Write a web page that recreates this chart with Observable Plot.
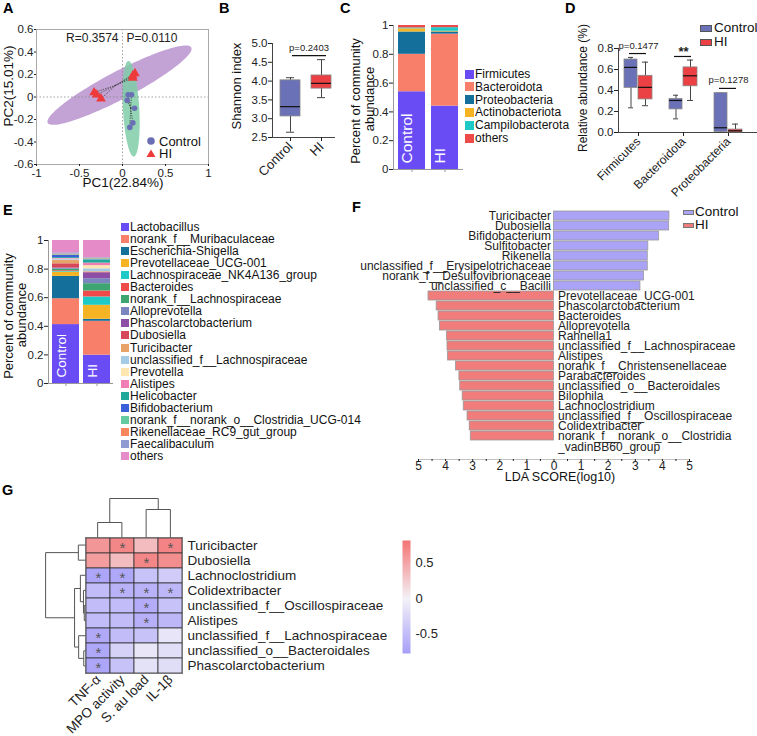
<!DOCTYPE html>
<html><head><meta charset="utf-8">
<script src="https://cdn.jsdelivr.net/npm/d3@7"></script>
<script src="https://cdn.jsdelivr.net/npm/@observablehq/plot@0.6"></script>
<style>
html,body{margin:0;padding:0;background:#fff;}
#root{position:relative;width:757px;height:736px;overflow:hidden;font-family:"Liberation Sans",Arial,sans-serif;background:#fff;color:#111;}
#root svg{overflow:visible;}
</style></head><body><div id="root"></div>
<script>
// ---------------- DATA ----------------
// A: PCoA
const controlPC1 = [0.066, 0.105, 0.054, 0.14, 0.12, 0.085];
const controlPC2 = [0.02, 0.02, -0.03, -0.10, -0.23, -0.27];
const hiPC1 = [-0.33, -0.30, -0.25, 0.12, 0.145, 0.12];
const hiPC2 = [0.04, 0.02, -0.015, 0.17, 0.21, 0.19];
const ellipseGroups = ["HI", "Control"];
const ellipseCenterX = [-0.035, 0.10];
const ellipseCenterY = [0.105, -0.105];
const ellipseMajorX = [0.835, -0.03];
const ellipseMajorY = [0.335, 0.425];
const ellipseMinorX = [0.074, 0.095];
const ellipseMinorY = [-0.11, 0.0];
const pcaXTicks = [-1, -0.5, 0, 0.5, 1];
const pcaYTicks = [-0.6, -0.4, -0.2, 0, 0.2, 0.4, 0.6];
const pcaStats = ["R=0.3574", "P=0.0110"];

// B: Shannon
const shannonGroups = ["Control", "HI"];
const shannonMin = [2.64, 3.56];
const shannonQ1 = [3.06, 3.80];
const shannonMedian = [3.32, 3.94];
const shannonQ3 = [4.02, 4.15];
const shannonMax = [4.09, 4.57];
const shannonTicks = [2.5, 3, 3.5, 4, 4.5, 5];
const shannonPLabel = ["p=0.2403"];
const shannonPY = [4.68];

// C: phylum composition
const phylumNames = ["Firmicutes", "Bacteroidota", "Proteobacteria", "Actinobacteriota", "Campilobacterota", "others"];
const phylumColors = ["#6a4cf5", "#f8806a", "#14709a", "#f6b425", "#1fc9c6", "#ef4a4a"];
const phylumControl = [0.54, 0.26, 0.155, 0.022, 0.006, 0.017];
const phylumHI = [0.44, 0.50, 0.015, 0.005, 0.025, 0.015];
const fracTicks = [0, 0.2, 0.4, 0.6, 0.8, 1];

// D: phylum boxplots
const dTaxa = ["Firmicutes", "Bacteroidota", "Proteobacteria"];
const dControlMin = [0.235, 0.13, 0.0];
const dControlQ1 = [0.425, 0.22, 0.005];
const dControlMed = [0.62, 0.305, 0.045];
const dControlQ3 = [0.695, 0.32, 0.375];
const dControlMax = [0.715, 0.355, 0.375];
const dHIMin = [0.255, 0.305, 0.0];
const dHIQ1 = [0.315, 0.44, 0.0];
const dHIMed = [0.43, 0.54, 0.016];
const dHIQ3 = [0.54, 0.62, 0.028];
const dHIMax = [0.67, 0.69, 0.08];
const dSigLabels = ["p=0.1477", "**", "p=0.1278"];
const dSigY = [0.752, 0.724, 0.42];
const dTicks = [0, 0.2, 0.4, 0.6, 0.8];

// E: genus composition
const genusNames = ["Lactobacillus", "norank_f__Muribaculaceae", "Escherichia-Shigella", "Prevotellaceae_UCG-001",
  "Lachnospiraceae_NK4A136_group", "Bacteroides", "norank_f__Lachnospiraceae", "Alloprevotella", "Phascolarctobacterium",
  "Dubosiella", "Turicibacter", "unclassified_f__Lachnospiraceae", "Prevotella", "Alistipes", "Helicobacter",
  "Bifidobacterium", "norank_f__norank_o__Clostridia_UCG-014", "Rikenellaceae_RC9_gut_group", "Faecalibaculum", "others"];
const genusColors = ["#6a4cf5", "#f8806a", "#14709a", "#f6b425", "#1fc9c6", "#ef4a4a", "#3da56f", "#7b85c0", "#8d4fa5",
  "#d4485a", "#e8a468", "#a6cbe6", "#fde6b0", "#f07eb4", "#1fa89a", "#3a5fd9", "#63c9a1", "#f8875f", "#8f9bd1", "#e58bc8"];
const genusControl = [0.412, 0.181, 0.156, 0.030, 0.005, 0.005, 0.010, 0.005, 0.003, 0.030, 0.023, 0.006, 0.004, 0.004,
  0.006, 0.015, 0.005, 0.005, 0.009, 0.086];
const genusHI = [0.198, 0.237, 0.014, 0.098, 0.058, 0.042, 0.051, 0.035, 0.041, 0.004, 0.004, 0.020, 0.022, 0.018,
  0.018, 0.004, 0.008, 0.004, 0.004, 0.120];

// F: LEfSe
const ldaTaxa = ["Turicibacter", "Dubosiella", "Bifidobacterium", "Sulfitobacter", "Rikenella",
  "unclassified_f__Erysipelotrichaceae", "norank_f__Desulfovibrionaceae", "unclassified_c__Bacilli",
  "Prevotellaceae_UCG-001", "Phascolarctobacterium", "Bacteroides", "Alloprevotella", "Rahnella1",
  "unclassified_f__Lachnospiraceae", "Alistipes", "norank_f__Christensenellaceae", "Parabacteroides",
  "unclassified_o__Bacteroidales", "Bilophila", "Lachnoclostridium", "unclassified_f__Oscillospiraceae",
  "Colidextribacter", "norank_f__norank_o__Clostridia_vadinBB60_group"];
const ldaScore = [4.26, 4.25, 3.88, 3.48, 3.46, 3.46, 3.32, 3.19,
  4.63, 4.33, 4.26, 4.21, 3.95, 3.93, 3.91, 3.62, 3.49, 3.46, 3.37, 3.33, 3.19, 3.11, 3.07];
const ldaGroup = ["Control", "Control", "Control", "Control", "Control", "Control", "Control", "Control",
  "HI", "HI", "HI", "HI", "HI", "HI", "HI", "HI", "HI", "HI", "HI", "HI", "HI", "HI", "HI"];
const ldaTicks = [-5, -4, -3, -2, -1, 0, 1, 2, 3, 4, 5];
const ldaMinorTicks = [-4.5, -3.5, -2.5, -1.5, -0.5, 0.5, 1.5, 2.5, 3.5, 4.5];

// G: correlation heatmap
const heatRows = ["Turicibacter", "Dubosiella", "Lachnoclostridium", "Colidextribacter",
  "unclassified_f__Oscillospiraceae", "Alistipes", "unclassified_f__Lachnospiraceae",
  "unclassified_o__Bacteroidales", "Phascolarctobacterium"];
const heatCols = ["TNF-α", "MPO activity", "S. au load", "IL-1β"];
const heatR = [
  [0.60, 0.70, 0.35, 0.72],
  [0.55, 0.35, 0.70, 0.65],
  [-0.72, -0.70, -0.45, -0.35],
  [-0.50, -0.60, -0.60, -0.55],
  [-0.50, -0.50, -0.65, -0.45],
  [-0.50, -0.50, -0.62, -0.55],
  [-0.68, -0.50, -0.45, -0.12],
  [-0.70, -0.30, -0.10, -0.18],
  [-0.72, -0.45, -0.15, -0.20]];
const heatSig = [
  [0, 1, 0, 1], [0, 0, 1, 0], [1, 1, 0, 0], [0, 1, 1, 1], [0, 0, 1, 0],
  [0, 0, 1, 0], [1, 0, 0, 0], [1, 0, 0, 0], [1, 0, 0, 0]];
// hierarchical clustering merges: [childA, childB, height]
const rowMerges = [[4, 5, 1.2], [3, 9, 2], [2, 10, 5], [7, 8, 1.7], [6, 12, 6.7], [11, 13, 10.7], [0, 1, 7], [15, 14, 39]];
const colMerges = [[0, 1, 15], [2, 3, 28], [4, 5, 39]];
const colorbarTicks = [-0.5, 0, 0.5];

// ---------------- HELPERS ----------------
const FONT = "Liberation Sans, Arial, sans-serif";
const root = document.getElementById("root");
const sty = fs => ({fontFamily: FONT, fontSize: fs + "px", background: "transparent", overflow: "visible", color: "#222"});
function place(node, left, top) {
  node.style.position = "absolute"; node.style.left = left + "px"; node.style.top = top + "px";
  root.appendChild(node); return node;
}
function txt(s, x, y, o = {}) {
  const d = document.createElement("div");
  d.textContent = s;
  const size = o.size ?? 12;
  const tx = o.anchor === "start" ? "0" : o.anchor === "end" ? "-100%" : "-50%";
  d.style.cssText = `position:absolute;left:${x}px;top:${y}px;font-size:${size}px;line-height:1;white-space:nowrap;` +
    `font-weight:${o.weight || "normal"};color:${o.color || "#111"};transform-origin:0 0;` +
    `transform:rotate(${o.rot || 0}deg) translate(${tx},-50%);font-family:${FONT};`;
  root.appendChild(d); return d;
}
function swatch(x, y, w, h, fill, stroke) {
  const d = document.createElement("div");
  d.style.cssText = `position:absolute;left:${x}px;top:${y - h / 2}px;width:${w}px;height:${h}px;background:${fill};` +
    (stroke ? `box-sizing:border-box;border:1px solid ${stroke};` : "");
  root.appendChild(d); return d;
}
const fmtFrac = d => d === 0 ? "0" : d === 1 ? "1" : d.toFixed(1);

// ---------------- PANEL A ----------------
const ctrlPts = controlPC1.map((x, i) => ({x, y: controlPC2[i]}));
const hiPts = hiPC1.map((x, i) => ({x, y: hiPC2[i]}));
const ctrlC = {x: d3.mean(controlPC1), y: d3.mean(controlPC2)};
const hiC = {x: d3.mean(hiPC1), y: d3.mean(hiPC2)};
const thetas = d3.range(0, 360, 3).map(a => a * Math.PI / 180);
const ellipse = i => thetas.map(t => ({
  x: ellipseCenterX[i] + Math.cos(t) * ellipseMajorX[i] + Math.sin(t) * ellipseMinorX[i],
  y: ellipseCenterY[i] + Math.cos(t) * ellipseMajorY[i] + Math.sin(t) * ellipseMinorY[i]}));
const plotA = Plot.plot({
  width: 215, height: 195, marginLeft: 36, marginRight: 7, marginTop: 29, marginBottom: 31,
  style: sty(11.5),
  x: {domain: [-1, 1]}, y: {domain: [-0.6, 0.6]},
  marks: [
    Plot.line(ellipse(0), {x: "x", y: "y", curve: "linear-closed", fill: "#b48ccb", fillOpacity: 0.8, stroke: "none"}),
    Plot.line(ellipse(1), {x: "x", y: "y", curve: "linear-closed", fill: "#7fcca7", fillOpacity: 0.85, stroke: "none"}),
    Plot.ruleX([0], {stroke: "#888", strokeDasharray: "1.5,2", strokeWidth: 0.8}),
    Plot.ruleY([0], {stroke: "#888", strokeDasharray: "1.5,2", strokeWidth: 0.8}),
    Plot.frame({stroke: "#aaa"}),
    Plot.axisX({ticks: pcaXTicks, tickFormat: d => String(d), tickSize: 2, tickPadding: 2, label: null, fontSize: 11.5}),
    Plot.axisY({ticks: pcaYTicks, tickFormat: d => String(d), tickSize: 2, tickPadding: 1, label: null, fontSize: 11.5}),
    Plot.link(ctrlPts, {x1: () => ctrlC.x, y1: () => ctrlC.y, x2: "x", y2: "y", stroke: "#333", strokeDasharray: "1.2,1.2", strokeWidth: 0.8}),
    Plot.link(hiPts, {x1: () => hiC.x, y1: () => hiC.y, x2: "x", y2: "y", stroke: "#333", strokeDasharray: "1.2,1.2", strokeWidth: 0.8}),
    Plot.dot(ctrlPts, {x: "x", y: "y", r: 2.8, fill: "#6a6fb5"}),
    Plot.dot(hiPts, {x: "x", y: "y", r: 3.6, symbol: "triangle", fill: "#ee3a3a"}),
    Plot.text([pcaStats[0]], {x: 0, frameAnchor: "top", textAnchor: "end", dx: -4, dy: 4, fontSize: 12}),
    Plot.text([pcaStats[1]], {x: 0, frameAnchor: "top", textAnchor: "start", dx: 4, dy: 4, fontSize: 12})
  ]
});
place(plotA, 0, 0);

// ---------------- PANEL B ----------------
const boxB = shannonGroups.map((g, i) => ({group: g, min: shannonMin[i], q1: shannonQ1[i], med: shannonMedian[i], q3: shannonQ3[i], max: shannonMax[i]}));
const plotB = Plot.plot({
  width: 125, height: 195, marginLeft: 57, marginRight: 5, marginTop: 43, marginBottom: 58,
  style: sty(11.5),
  x: {domain: shannonGroups, range: [65, 116], paddingInner: 0.355, paddingOuter: 0},
  y: {domain: [2.5, 5]},
  color: {domain: shannonGroups, range: ["#6a71b6", "#ec4144"]},
  marks: [
    Plot.frame({anchor: "left", stroke: "#444"}),
    Plot.ruleY([2.5], {stroke: "#444"}),
    Plot.axisY({ticks: shannonTicks, tickFormat: d => d.toFixed(1), tickSize: 4, tickPadding: 1, label: null, fontSize: 11.5}),
    Plot.axisX({tickRotate: -45, tickSize: 4, tickPadding: 3, label: null, fontSize: 13}),
    Plot.ruleX(boxB, {x: "group", y1: "min", y2: "max", stroke: "#444"}),
    Plot.tickY(boxB, {x: "group", y: "min", inset: 6, stroke: "#444"}),
    Plot.tickY(boxB, {x: "group", y: "max", inset: 6, stroke: "#444"}),
    Plot.barY(boxB, {x: "group", y1: "q1", y2: "q3", fill: "group", stroke: "#888", strokeWidth: 0.8}),
    Plot.tickY(boxB, {x: "group", y: "med", stroke: "#111", strokeWidth: 1.2}),
    Plot.tickY(shannonPY, {y: d => d, insetLeft: 20, insetRight: 9, stroke: "#111", strokeWidth: 1.2}),
    Plot.text(shannonPLabel, {y: () => shannonPY[0], frameAnchor: "middle", dx: 5, dy: -8, fontSize: 9.5})
  ]
});
place(plotB, 215, 0);

// ---------------- PANEL C ----------------
const phylumLong = [];
phylumNames.forEach((p, i) => {
  phylumLong.push({group: "Control", taxon: p, value: phylumControl[i]});
  phylumLong.push({group: "HI", taxon: p, value: phylumHI[i]});
});
const plotC = Plot.plot({
  width: 125, height: 195, marginLeft: 53, marginRight: 2, marginTop: 25, marginBottom: 26,
  style: sty(11.5),
  x: {domain: shannonGroups, range: [58, 118], paddingInner: 0.182, paddingOuter: 0},
  y: {domain: [0, 1]},
  color: {domain: phylumNames, range: phylumColors},
  marks: [
    Plot.barY(phylumLong, {x: "group", y: "value", fill: "taxon", order: phylumNames}),
    Plot.frame({anchor: "left", stroke: "#999"}),
    Plot.ruleY([0], {stroke: "#999"}),
    Plot.axisY({ticks: fracTicks, tickFormat: fmtFrac, tickSize: 4, tickPadding: 1, label: null, fontSize: 11.5}),
    Plot.axisX({tickFormat: () => "", tickSize: 3, label: null, stroke: "#999"}),
    Plot.text(shannonGroups, {x: d => d, frameAnchor: "bottom", rotate: -90, textAnchor: "start", dy: -6, fill: "white", fontSize: 15.5})
  ]
});
place(plotC, 340, 0);

// ---------------- PANEL D ----------------
const boxD = [];
dTaxa.forEach((t, i) => {
  boxD.push({taxon: t, group: "Control", min: dControlMin[i], q1: dControlQ1[i], med: dControlMed[i], q3: dControlQ3[i], max: dControlMax[i]});
  boxD.push({taxon: t, group: "HI", min: dHIMin[i], q1: dHIQ1[i], med: dHIMed[i], q3: dHIQ3[i], max: dHIMax[i]});
});
const bC = boxD.filter(d => d.group === "Control"), bH = boxD.filter(d => d.group === "HI");
const sigD = dTaxa.map((t, i) => ({taxon: t, label: dSigLabels[i], y: dSigY[i]}));
const plotD = Plot.plot({
  width: 202, height: 195, marginLeft: 63, marginRight: 0, marginTop: 48, marginBottom: 63,
  style: sty(11.5),
  x: {domain: dTaxa, range: [69, 187], paddingInner: 0.378, paddingOuter: 0},
  y: {domain: [0, 0.8]},
  color: {domain: shannonGroups, range: ["#6a71b6", "#ec4144"]},
  marks: [
    Plot.frame({anchor: "left", stroke: "#444"}),
    Plot.ruleY([0], {stroke: "#444"}),
    Plot.axisY({ticks: dTicks, tickFormat: d => d.toFixed(1), tickSize: 4, tickPadding: 1, label: null, fontSize: 11.5}),
    Plot.axisX({tickRotate: -45, tickSize: 4, tickPadding: 3, label: null, fontSize: 12}),
    Plot.ruleX(bC, {x: "taxon", y1: "min", y2: "max", dx: -7.5, stroke: "#444"}),
    Plot.ruleX(bH, {x: "taxon", y1: "min", y2: "max", dx: 7, stroke: "#444"}),
    Plot.tickY(bC, {x: "taxon", y: "min", insetLeft: 4, insetRight: 19, stroke: "#444"}),
    Plot.tickY(bC, {x: "taxon", y: "max", insetLeft: 4, insetRight: 19, stroke: "#444"}),
    Plot.tickY(bH, {x: "taxon", y: "min", insetLeft: 18, insetRight: 4, stroke: "#444"}),
    Plot.tickY(bH, {x: "taxon", y: "max", insetLeft: 18, insetRight: 4, stroke: "#444"}),
    Plot.barY(bC, {x: "taxon", y1: "q1", y2: "q3", fill: "group", insetRight: 15, stroke: "#888", strokeWidth: 0.8}),
    Plot.barY(bH, {x: "taxon", y1: "q1", y2: "q3", fill: "group", insetLeft: 14, stroke: "#888", strokeWidth: 0.8}),
    Plot.tickY(bC, {x: "taxon", y: "med", insetRight: 15, stroke: "#111", strokeWidth: 1.2}),
    Plot.tickY(bH, {x: "taxon", y: "med", insetLeft: 14, stroke: "#111", strokeWidth: 1.2}),
    Plot.tickY(sigD, {x: "taxon", y: "y", insetLeft: 5, insetRight: 6, stroke: "#111", strokeWidth: 1.2}),
    Plot.text(sigD.filter(d => d.label !== "**"), {x: "taxon", y: "y", text: "label", dy: -8, fontSize: 9.5}),
    Plot.text(sigD.filter(d => d.label === "**"), {x: "taxon", y: "y", text: "label", dy: -5, fontSize: 13, fontWeight: "bold"})
  ]
});
place(plotD, 555, 0);

// ---------------- PANEL E ----------------
const genusLong = [];
genusNames.forEach((g, i) => {
  genusLong.push({group: "Control", taxon: g, value: genusControl[i]});
  genusLong.push({group: "HI", taxon: g, value: genusHI[i]});
});
const plotE = Plot.plot({
  width: 120, height: 270, marginLeft: 48, marginRight: 7, marginTop: 40, marginBottom: 87,
  style: sty(11.5),
  x: {domain: shannonGroups, range: [52, 110], paddingInner: 0.13, paddingOuter: 0},
  y: {domain: [0, 1]},
  color: {domain: genusNames, range: genusColors},
  marks: [
    Plot.barY(genusLong, {x: "group", y: "value", fill: "taxon", order: genusNames}),
    Plot.frame({anchor: "left", stroke: "#999"}),
    Plot.ruleY([0], {stroke: "#999"}),
    Plot.axisY({ticks: fracTicks, tickFormat: fmtFrac, tickSize: 4, tickPadding: 1, label: null, fontSize: 11.5}),
    Plot.axisX({tickFormat: () => "", tickSize: 3, label: null, stroke: "#999"}),
    Plot.text(shannonGroups, {x: d => d, frameAnchor: "bottom", rotate: -90, textAnchor: "start", dy: -6, fill: "white", fontSize: 13.5})
  ]
});
place(plotE, 0, 200);

// ---------------- PANEL F ----------------
const lda = ldaTaxa.map((t, i) => ({taxon: t, group: ldaGroup[i], score: ldaScore[i], signed: ldaGroup[i] === "Control" ? ldaScore[i] : -ldaScore[i]}));
const plotF = Plot.plot({
  width: 457, height: 290, marginLeft: 118, marginRight: 68, marginTop: 10, marginBottom: 31,
  style: sty(12),
  x: {domain: [-5, 5]},
  y: {domain: ldaTaxa, range: [10, 241], paddingInner: 0.1, paddingOuter: 0, axis: null},
  color: {domain: ["Control", "HI"], range: ["#aba4f6", "#f07c7c"]},
  marks: [
    Plot.barX(lda, {x1: 0, x2: "signed", y: "taxon", fill: "group", stroke: "#9a9a9a", strokeWidth: 0.8}),
    Plot.text(lda.filter(d => d.group === "Control"), {x: 0, y: "taxon", text: "taxon", textAnchor: "end", dx: -3, fontSize: 12}),
    Plot.text(lda.filter(d => d.group === "HI"), {x: 0, y: "taxon", text: d => d.taxon.replace("Clostridia_", "Clostridia\n_"),
      textAnchor: "start", lineAnchor: "top", dy: -4.5, dx: 4, fontSize: 12, lineHeight: 0.95}),
    Plot.frame({anchor: "bottom", stroke: "#999", strokeWidth: 0.6}),
    Plot.axisX({ticks: ldaTicks, tickFormat: d => String(Math.abs(d)), tickSize: 2, tickPadding: 0, label: null, fontSize: 12}),
    Plot.axisX({ticks: ldaMinorTicks, tickFormat: () => "", tickSize: 2, label: null})
  ]
});
place(plotF, 300, 200);

// ---------------- PANEL G ----------------
const heat = heatRows.flatMap((row, i) => heatCols.map((col, j) => ({row, col, r: heatR[i][j], sig: heatSig[i][j]})));
const heatColor = {type: "linear", domain: [-0.8, 0, 0.8], range: ["#a59cf8", "#f3f2f7", "#f37777"], interpolate: "rgb"};
const plotG = Plot.plot({
  width: 400, height: 256, marginLeft: 85, marginRight: 218, marginTop: 57, marginBottom: 63,
  style: sty(13.5),
  x: {domain: heatCols, padding: 0},
  y: {domain: heatRows, padding: 0},
  color: heatColor,
  marks: [
    Plot.cell(heat, {x: "col", y: "row", fill: "r", stroke: "#333", strokeWidth: 0.8, inset: 0}),
    Plot.frame({stroke: "#777"}),
    Plot.text(heat.filter(d => d.sig), {x: "col", y: "row", text: () => "*", fontSize: 15, fill: "#555", dy: 2}),
    Plot.axisY({anchor: "right", tickSize: 0, tickPadding: 5, label: null, fontSize: 13.5}),
    Plot.axisX({tickRotate: -45, tickSize: 0, tickPadding: 4, label: null, fontSize: 13.5})
  ]
});
place(plotG, 0, 480);

function dendro(n, merges) {
  const pos = d3.range(n), h = new Array(n).fill(0), segs = [];
  merges.forEach(([a, b, ht]) => {
    segs.push({p1: pos[a], h1: h[a], p2: pos[a], h2: ht});
    segs.push({p1: pos[b], h1: h[b], p2: pos[b], h2: ht});
    segs.push({p1: pos[a], h1: ht, p2: pos[b], h2: ht});
    pos.push((pos[a] + pos[b]) / 2); h.push(ht);
  });
  return segs;
}
const colSegs = dendro(heatCols.length, colMerges);
const plotGTop = Plot.plot({
  width: 97, height: 57, margin: 0, marginTop: 17,
  style: sty(10),
  x: {domain: [-0.5, heatCols.length - 0.5], axis: null},
  y: {domain: [0, 40], axis: null},
  marks: [Plot.link(colSegs, {x1: "p1", y1: "h1", x2: "p2", y2: "h2", stroke: "#555", strokeWidth: 1})]
});
place(plotGTop, 85, 480);
const rowSegs = dendro(heatRows.length, rowMerges);
const plotGLeft = Plot.plot({
  width: 45, height: 136, margin: 0,
  style: sty(10),
  x: {domain: [0, 44], range: [45, 0], axis: null},
  y: {domain: [-0.5, heatRows.length - 0.5], reverse: true, axis: null},
  marks: [Plot.link(rowSegs, {x1: "h1", y1: "p1", x2: "h2", y2: "p2", stroke: "#555", strokeWidth: 1})]
});
place(plotGLeft, 40, 537);
const plotCB = Plot.plot({
  width: 50, height: 125, marginLeft: 7, marginRight: 35, marginTop: 5, marginBottom: 7,
  style: sty(13),
  x: {domain: [0, 1], axis: null},
  y: {domain: [-0.77, 0.82]},
  color: heatColor,
  marks: [
    Plot.raster({fill: (x, y) => y, x1: 0, x2: 1, y1: -0.77, y2: 0.82, width: 1, height: 120}),
    Plot.axisY({anchor: "right", ticks: colorbarTicks, tickFormat: d => String(d), tickSize: 0, tickPadding: 5, label: null, fontSize: 13})
  ]
});
place(plotCB, 395, 535);

// ---------------- HTML TEXT / LEGENDS ----------------
const L = {size: 14.5, weight: "bold", anchor: "start", color: "#000"};
txt("A", 3, 8, L); txt("B", 219, 8, L); txt("C", 340, 8, L); txt("D", 565, 8, L);
txt("E", 3, 210, L); txt("F", 352, 207, L); txt("G", 2, 490, L);

txt("PC1(22.84%)", 123, 183, {size: 13.5});
txt("PC2(15.01%)", 9, 86, {size: 13.5, rot: -90});
// legend A
const lgA = document.createElementNS("http://www.w3.org/2000/svg", "svg");
lgA.setAttribute("width", 12); lgA.setAttribute("height", 26);
lgA.innerHTML = '<circle cx="6" cy="6" r="3.8" fill="#6a6fb5"/><path d="M6,14.5 L10.5,22 L1.5,22 Z" fill="#ee3a3a"/>';
place(lgA, 145, 135);
txt("Control", 159, 141, {size: 13, anchor: "start"});
txt("HI", 159, 153, {size: 13, anchor: "start"});

txt("Shannon index", 236, 86, {size: 13, rot: -90});

txt("Percent of community", 355, 101, {size: 13, rot: -90});
txt("abundance", 369, 99, {size: 13, rot: -90});
phylumNames.forEach((p, i) => {
  swatch(465, 74 + i * 12.8, 9, 9, phylumColors[i]);
  txt(p, 475, 74 + i * 12.8, {size: 12, anchor: "start"});
});

txt("Relative abundance (%)", 583, 88, {size: 12, rot: -90});
swatch(700, 28, 12, 7, "#6a71b6", "#555"); txt("Control", 714, 28, {size: 13.5, anchor: "start"});
swatch(700, 42, 12, 7, "#ec4144", "#555"); txt("HI", 714, 42, {size: 13.5, anchor: "start"});

txt("Percent of community", 8, 316, {size: 13, rot: -90});
txt("abundance", 21, 315, {size: 13, rot: -90});
genusNames.forEach((g, i) => {
  swatch(121, 227 + i * 12.05, 8, 8, genusColors[i]);
  txt(g, 130, 227 + i * 12.05, {size: 12, anchor: "start"});
});

txt("LDA SCORE(log10)", 560, 477, {size: 12.5});
swatch(683, 212, 11, 5, "#aba4f6", "#777"); txt("Control", 695, 212, {size: 13.5, anchor: "start"});
swatch(683, 225, 11, 5, "#f07c7c", "#777"); txt("HI", 695, 225, {size: 13.5, anchor: "start"});
</script></body></html>
